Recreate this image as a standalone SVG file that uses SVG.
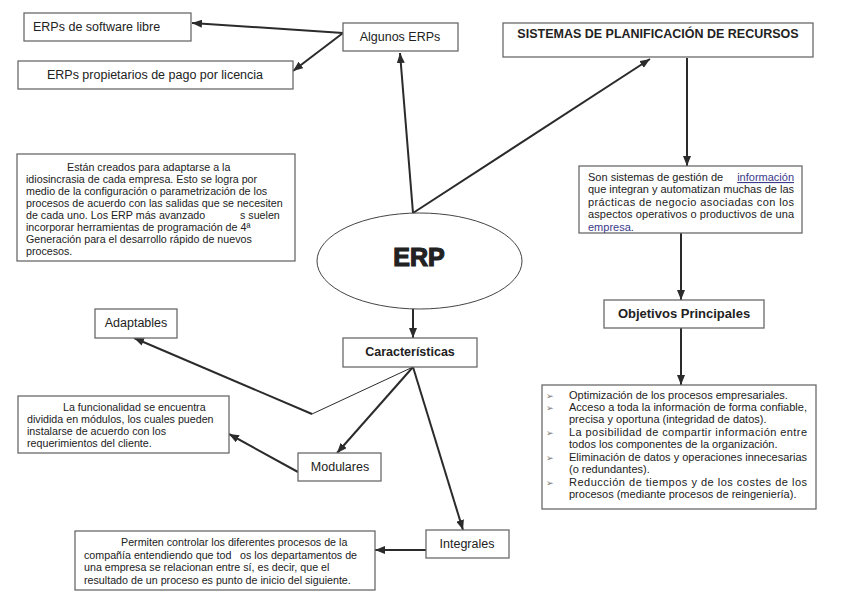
<svg xmlns="http://www.w3.org/2000/svg" width="841" height="616" viewBox="0 0 841 616">
<defs>
<marker id="ah" viewBox="0 0 10 8" refX="10" refY="4" markerWidth="10" markerHeight="8" markerUnits="userSpaceOnUse" orient="auto">
<path d="M0,0 L10,4 L0,8 z" fill="#2b2b2b"/>
</marker>
<style>
.box{fill:#fff;stroke:#6a6a6a;stroke-width:1.3}
.t{font-family:"Liberation Sans",Arial,sans-serif;font-size:12.5px;fill:#222}
.b{font-family:"Liberation Sans",Arial,sans-serif;font-size:12.5px;font-weight:bold;fill:#222}
.p{font-family:"Liberation Sans",Arial,sans-serif;font-size:10.7px;fill:#222}
.q{font-family:"Liberation Sans",Arial,sans-serif;font-size:11px;fill:#222}
.lk{fill:#3a3a8a}
.bu{font-family:"DejaVu Sans",sans-serif;font-size:9px;fill:#777}
.c{fill:none;stroke:#2b2b2b;stroke-width:2}
.cn{fill:none;stroke:#2b2b2b;stroke-width:1}
</style>
</defs>
<rect width="841" height="616" fill="#fff"/>

<g id="connectors">
<line class="c" x1="413" y1="213" x2="400" y2="53" marker-end="url(#ah)"/>
<line class="c" x1="413" y1="213" x2="650" y2="59" marker-end="url(#ah)"/>
<line class="c" x1="343" y1="33" x2="192" y2="23" marker-end="url(#ah)"/>
<line class="c" x1="343" y1="33" x2="293" y2="71" marker-end="url(#ah)"/>
<line class="c" x1="687" y1="58" x2="687" y2="166" marker-end="url(#ah)"/>
<line class="c" x1="681" y1="233" x2="681" y2="300" marker-end="url(#ah)"/>
<line class="c" x1="681" y1="328" x2="681" y2="385" marker-end="url(#ah)"/>
<line class="c" x1="413" y1="309" x2="413" y2="338" marker-end="url(#ah)"/>
<line class="cn" x1="413" y1="367" x2="312" y2="414"/>
<line class="c" x1="312" y1="414" x2="134" y2="338" marker-end="url(#ah)"/>
<line class="c" x1="413" y1="367" x2="337" y2="453" marker-end="url(#ah)"/>
<line class="c" x1="298" y1="472" x2="229" y2="434" marker-end="url(#ah)"/>
<line class="c" x1="413" y1="367" x2="463" y2="530" marker-end="url(#ah)"/>
<line class="c" x1="426" y1="550" x2="375" y2="550" marker-end="url(#ah)"/>
</g>

<g id="libre">
<rect class="box" x="24" y="13" width="167" height="28"/>
<text class="t" x="33" y="31">ERPs de software libre</text>
</g>
<g id="propietarios">
<rect class="box" x="18" y="61" width="275" height="28"/>
<text class="t" x="155" y="79" text-anchor="middle">ERPs propietarios de pago por licencia</text>
</g>
<g id="algunos">
<rect class="box" x="343" y="23" width="115" height="28"/>
<text class="t" x="400" y="41" text-anchor="middle">Algunos ERPs</text>
</g>
<g id="sistemas">
<rect class="box" x="503" y="23" width="310" height="34"/>
<text class="b" x="658" y="38" text-anchor="middle">SISTEMAS DE PLANIFICACIÓN DE RECURSOS</text>
</g>

<g id="creados">
<rect class="box" x="17" y="154" width="278" height="107"/>
<text class="p" x="67" y="171">Están creados para adaptarse a la</text>
<text class="p" x="26" y="183">idiosincrasia de cada empresa. Esto se logra por</text>
<text class="p" x="26" y="195">medio de la configuración o parametrización de los</text>
<text class="p" x="26" y="207">procesos de acuerdo con las salidas que se necesiten</text>
<text class="p" x="26" y="219">de cada uno. Los ERP más avanzado</text>
<text class="p" x="240" y="219">s suelen</text>
<text class="p" x="26" y="231">incorporar herramientas de programación de 4ª</text>
<text class="p" x="26" y="243">Generación para el desarrollo rápido de nuevos</text>
<text class="p" x="26" y="255">procesos.</text>
</g>

<g id="erp">
<ellipse cx="419.5" cy="261" rx="102.5" ry="48" fill="#fff" stroke="#444" stroke-width="1"/>
<text x="419" y="266" text-anchor="middle" style="font-family:'Liberation Sans',Arial,sans-serif;font-size:25px;font-weight:bold;fill:#222;stroke:#222;stroke-width:1.2">ERP</text>
</g>

<g id="son">
<rect class="box" x="579" y="166" width="223" height="67"/>
<text class="q" x="588" y="181">Son sistemas de gestión de</text>
<text class="q lk" x="794" y="181" text-anchor="end" text-decoration="underline">información</text>
<text class="q" x="588" y="193" textLength="206" lengthAdjust="spacing">que integran y automatizan muchas de las</text>
<text class="q" x="588" y="206" textLength="206" lengthAdjust="spacing">prácticas de negocio asociadas con los</text>
<text class="q" x="588" y="218" textLength="206" lengthAdjust="spacing">aspectos operativos o productivos de una</text>
<text class="q lk" x="588" y="231">empresa.</text>
</g>

<g id="objetivos">
<rect class="box" x="604" y="300" width="160" height="28"/>
<text class="b" x="684" y="318" text-anchor="middle" style="font-size:13px">Objetivos Principales</text>
</g>

<g id="lista">
<rect class="box" x="542" y="385" width="274" height="124"/>
<text class="bu" x="546" y="399">➢</text>
<text class="q" x="569" y="399">Optimización de los procesos empresariales.</text>
<text class="bu" x="546" y="411">➢</text>
<text class="q" x="569" y="411" textLength="238" lengthAdjust="spacing">Acceso a toda la información de forma confiable,</text>
<text class="q" x="569" y="423">precisa y oportuna (integridad de datos).</text>
<text class="bu" x="546" y="436">➢</text>
<text class="q" x="569" y="436" textLength="238" lengthAdjust="spacing">La posibilidad de compartir información entre</text>
<text class="q" x="569" y="448">todos los componentes de la organización.</text>
<text class="bu" x="546" y="461">➢</text>
<text class="q" x="569" y="461" textLength="238" lengthAdjust="spacing">Eliminación de datos y operaciones innecesarias</text>
<text class="q" x="569" y="473">(o redundantes).</text>
<text class="bu" x="546" y="486">➢</text>
<text class="q" x="569" y="486" textLength="238" lengthAdjust="spacing">Reducción de tiempos y de los costes de los</text>
<text class="q" x="569" y="498">procesos (mediante procesos de reingeniería).</text>
</g>

<g id="adaptables">
<rect class="box" x="95" y="309" width="82" height="29"/>
<text class="t" x="136" y="327" text-anchor="middle">Adaptables</text>
</g>

<g id="caracteristicas">
<rect class="box" x="343" y="338" width="134" height="29"/>
<text class="b" x="410" y="356" text-anchor="middle">Características</text>
</g>

<g id="funcionalidad">
<rect class="box" x="18" y="396" width="211" height="57"/>
<text class="p" x="63" y="411">La funcionalidad se encuentra</text>
<text class="p" x="27" y="423">dividida en módulos, los cuales pueden</text>
<text class="p" x="27" y="435">instalarse de acuerdo con los</text>
<text class="p" x="27" y="447">requerimientos del cliente.</text>
</g>

<g id="modulares">
<rect class="box" x="298" y="453" width="83" height="28"/>
<text class="t" x="340" y="471" text-anchor="middle">Modulares</text>
</g>

<g id="integrales">
<rect class="box" x="426" y="530" width="83" height="28"/>
<text class="t" x="467" y="548" text-anchor="middle">Integrales</text>
</g>

<g id="permiten">
<rect class="box" x="75" y="531" width="300" height="59"/>
<text class="p" x="121" y="546">Permiten controlar los diferentes procesos de la</text>
<text class="p" x="84" y="559">compañía entendiendo que tod</text>
<text class="p" x="240" y="559">os los departamentos de</text>
<text class="p" x="84" y="571">una empresa se relacionan entre sí, es decir, que el</text>
<text class="p" x="84" y="584">resultado de un proceso es punto de inicio del siguiente.</text>
</g>
</svg>
